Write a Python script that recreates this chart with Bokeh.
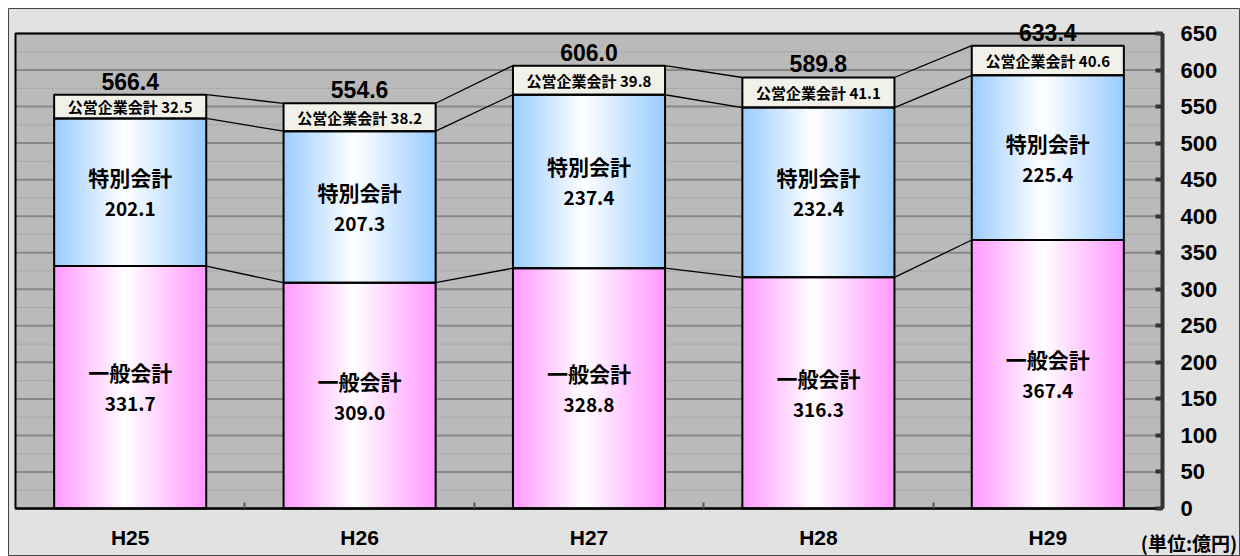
from bokeh.plotting import figure
from bokeh.models import ColumnDataSource, LabelSet, Label, FixedTicker, Range1d, LinearAxis
from bokeh.core.properties import value
from bokeh.embed import file_html
from bokeh.resources import INLINE

categories = ["H25", "H26", "H27", "H28", "H29"]
general = [331.7, 309.0, 328.8, 316.3, 367.4]
special = [202.1, 207.3, 237.4, 232.4, 225.4]
public = [32.5, 38.2, 39.8, 41.1, 40.6]
totals = [566.4, 554.6, 606.0, 589.8, 633.4]
y_ticks = list(range(0, 651, 50))
y_minor = [t + 25 for t in y_ticks[:-1]]

JP = value("Noto Sans CJK JP")
AR = value("Liberation Sans")

BAR_W = 0.663
N_STRIPES = 40
X0, X1 = -0.5, len(categories) - 0.5
Y0, Y1 = 0, 650

p = figure(width=1240, height=556, output_backend="svg", toolbar_location=None,
           x_range=Range1d(-0.5305, 4.8400), y_range=Range1d(-65.68, 684.21),
           x_axis_location=None, y_axis_location=None,
           min_border_left=8, min_border_top=8, min_border_right=0, min_border_bottom=0)
p.border_fill_color = "white"
p.background_fill_color = "#e2e2e2"
p.outline_line_color = "#444444"
p.outline_line_width = 1
p.grid.visible = False

# plot area background and grid
p.quad(left=[X0], right=[X1], bottom=[Y0], top=[Y1], fill_color="#bababa", line_color=None)
p.segment(x0=[X0] * len(y_minor), x1=[X1] * len(y_minor), y0=y_minor, y1=y_minor,
          line_color="#999999", line_width=1, line_dash="2 2")
p.segment(x0=[X0] * len(y_ticks), x1=[X1] * len(y_ticks), y0=y_ticks, y1=y_ticks,
          line_color="#888888", line_width=2)

def mix(edge, t):
    return "#%02x%02x%02x" % tuple(int(round(255 + (e - 255) * t)) for e in edge)

def grad_t(f, c=0.47):
    return (c - f) / c if f < c else (f - c) / (1 - c)

pink = (255, 153, 255)
blue = (153, 204, 255)

bottoms1 = [0.0] * len(categories)
tops1 = list(general)
bottoms2 = tops1
tops2 = [g + s for g, s in zip(general, special)]
bottoms3 = tops2
tops3 = [a + b for a, b in zip(tops2, public)]

sl, sr, sb, st, sc = [], [], [], [], []
for i in range(len(categories)):
    x0 = i - BAR_W / 2
    dw = BAR_W / N_STRIPES
    for k in range(N_STRIPES):
        t = grad_t((k + 0.5) / N_STRIPES)
        for (b, tp, edge) in ((bottoms1[i], tops1[i], pink), (bottoms2[i], tops2[i], blue)):
            sl.append(x0 + k * dw)
            sr.append(x0 + (k + 1) * dw)
            sb.append(b)
            st.append(tp)
            sc.append(mix(edge, t))
p.quad(left=sl, right=sr, bottom=sb, top=st, fill_color=sc, line_color=sc, line_width=1)

xs = list(range(len(categories)))
lefts = [x - BAR_W / 2 for x in xs]
rights = [x + BAR_W / 2 for x in xs]
p.quad(left=lefts, right=rights, bottom=bottoms3, top=tops3, fill_color="#f1f1e9", line_color=None)
for b, t in ((bottoms1, tops1), (bottoms2, tops2), (bottoms3, tops3)):
    p.quad(left=lefts, right=rights, bottom=b, top=t, fill_color=None,
           line_color="black", line_width=2)

# connector lines between bars
for level in (tops1, tops2, tops3):
    p.segment(x0=rights[:-1], y0=level[:-1], x1=lefts[1:], y1=level[1:],
              line_color="black", line_width=1.3)

# plot area frame
p.quad(left=[X0], right=[X1], bottom=[Y0], top=[Y1], fill_color=None,
       line_color="black", line_width=2)

# axes
yt = FixedTicker(ticks=y_ticks)
ya = LinearAxis(ticker=yt, fixed_location=X1, bounds=(Y0, Y1))
ya.axis_line_color = "#333333"
ya.axis_line_width = 4
ya.major_tick_in = 7
ya.major_tick_out = 0
ya.major_tick_line_width = 4
ya.major_tick_line_color = "#333333"
ya.minor_tick_line_color = None
ya.major_label_standoff = 18
ya.major_label_text_font = "Liberation Sans"
ya.major_label_text_font_style = "bold"
ya.major_label_text_font_size = "22px"
ya.major_label_text_color = "black"
p.add_layout(ya, "right")

xa = LinearAxis(ticker=FixedTicker(ticks=xs, minor_ticks=[i + 0.5 for i in xs[:-1]]),
                fixed_location=Y0, bounds=(X0, X1))
xa.major_label_overrides = {i: c for i, c in enumerate(categories)}
xa.major_tick_line_color = None
xa.minor_tick_in = 6
xa.minor_tick_out = 0
xa.minor_tick_line_color = "#555555"
xa.minor_tick_line_width = 2
xa.axis_line_color = "black"
xa.axis_line_width = 2
xa.major_label_standoff = 11
xa.major_label_text_font = "Liberation Sans"
xa.major_label_text_font_style = "bold"
xa.major_label_text_font_size = "21px"
xa.major_label_text_color = "black"
p.add_layout(xa, "below")

mid1 = [(b + t) / 2 for b, t in zip(bottoms1, tops1)]
mid2 = [(b + t) / 2 for b, t in zip(bottoms2, tops2)]
mid3 = [(b + t) / 2 for b, t in zip(bottoms3, tops3)]

src = ColumnDataSource(dict(
    x=xs, mid1=mid1, mid2=mid2, mid3=mid3, top=tops3,
    n1=["一般会計"] * 5, v1=["%.1f" % v for v in general],
    n2=["特別会計"] * 5, v2=["%.1f" % v for v in special],
    n3=["公営企業会計 %.1f" % v for v in public],
    tot=["%.1f" % v for v in totals],
))

def lab(y, text, off, font, size, baseline="middle"):
    p.add_layout(LabelSet(x="x", y=y, text=text, source=src, y_offset=off,
                          text_align="center", text_baseline=baseline,
                          text_font=font, text_font_style="bold",
                          text_font_size=size, text_color="black"))

lab("mid1", "n1", 15, JP, "21px")
lab("mid1", "v1", -17, JP, "19px")
lab("mid2", "n2", 15, JP, "21px")
lab("mid2", "v2", -17, JP, "19px")
lab("mid3", "n3", 0, JP, "15px")
lab("top", "tot", 5, AR, "23px", baseline="alphabetic")

p.add_layout(Label(x=4.826, y=-46.5, text="(単位:億円)", text_align="right",
                   text_baseline="middle", text_font="Noto Sans CJK JP", text_font_style="bold",
                   text_font_size="19px", text_color="black"))

open("out.html", "w").write(file_html(p, INLINE))
